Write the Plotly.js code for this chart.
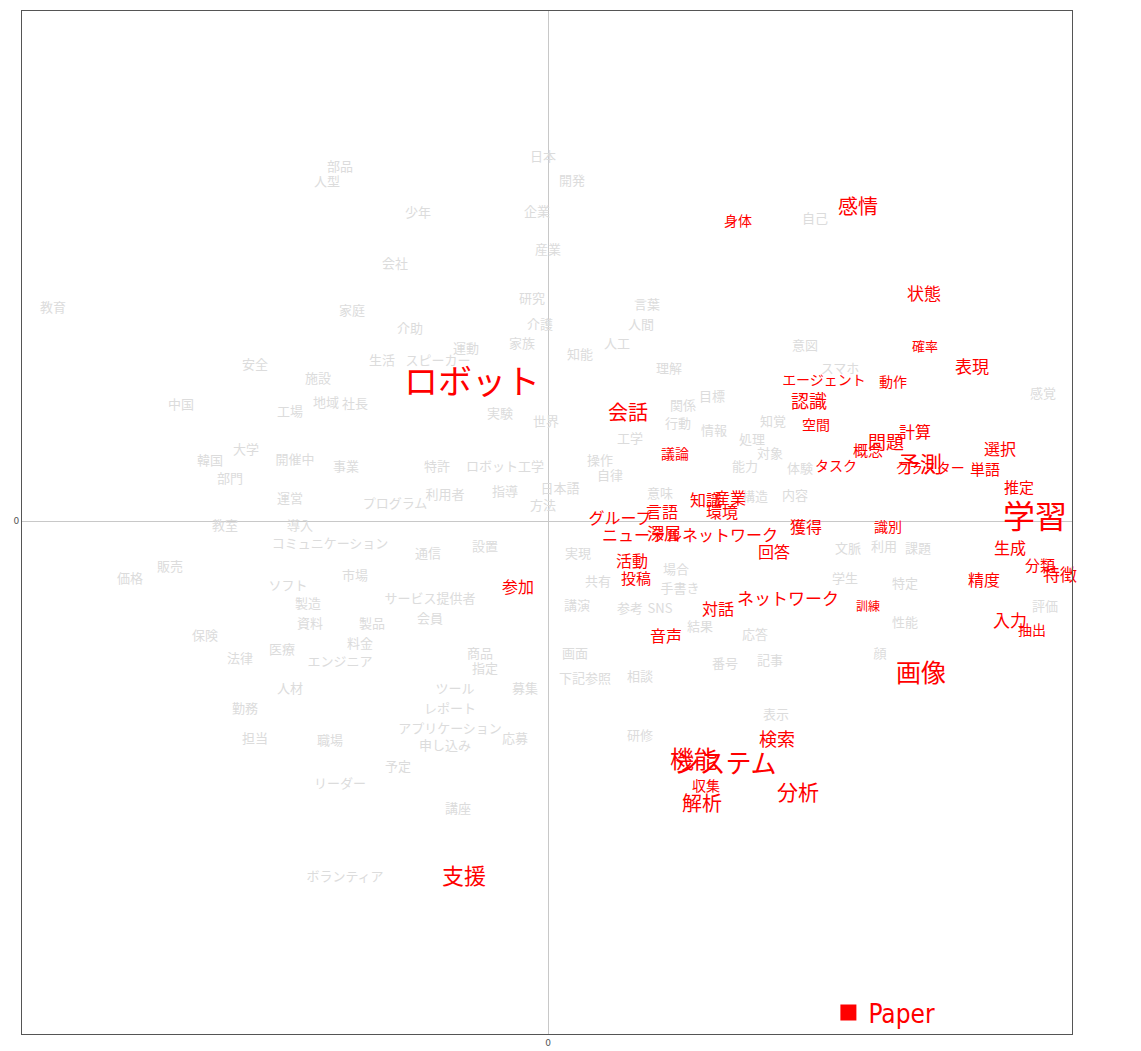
<!DOCTYPE html>
<html>
<head>
<meta charset="utf-8">
<script src="https://cdn.plot.ly/plotly-3.0.1.min.js"></script>
<style>html,body{margin:0;padding:0;background:#fff;}#chart{width:1141px;height:1051px;}</style>
</head>
<body>
<div id="chart"></div>
<script>
// Highlighted (red) words: labels, dimension 1, dimension 2, relative size
const redWords = ["ロボット","学習","画像","システム","機能","分析","解析","収集","検索","支援",
  "感情","身体","状態","確率","表現","エージェント","動作","認識","空間","計算",
  "概念","問題","タスク","予測","クラスター","単語","選択","推定","生成","分類",
  "特徴","モデル","精度","入力","抽出","手法","識別","訓練","ネットワーク","対話",
  "音声","投稿","活動","参加","獲得","回答","ニューラルネットワーク","深層","グループ","言語",
  "知識","産業","環境","会話","議論"];
const redX = [-0.76,4.87,3.73,1.77,1.46,2.50,1.54,1.58,2.29,-0.84,
  3.10,1.90,3.76,3.77,4.24,2.76,3.45,2.61,2.68,3.67,
  3.20,3.38,2.88,3.72,3.82,4.37,4.52,4.71,4.62,4.92,
  5.12,5.58,4.36,4.62,4.84,5.70,3.40,3.20,2.40,1.70,
  1.18,0.88,0.84,-0.30,2.58,2.26,1.42,1.16,0.72,1.14,
  1.58,1.82,1.74,0.80,1.27];
const redY = [1.36,0.01,-1.55,-2.45,-2.41,-2.74,-2.85,-2.66,-2.20,-3.57,
  3.12,2.99,2.25,1.73,1.52,1.40,1.38,1.18,0.95,0.87,
  0.69,0.77,0.54,0.55,0.52,0.50,0.70,0.32,-0.29,-0.46,
  -0.56,-0.44,-0.61,-1.02,-1.10,-1.72,-0.07,-0.87,-0.80,-0.90,
  -1.17,-0.59,-0.42,-0.68,-0.08,-0.33,-0.16,-0.15,0.01,0.07,
  0.19,0.21,0.07,1.06,0.66];
const redSize = [34,32,25,26,24,21,20,14,18,22,
  20,14,17,13,17,14,14,18,14,16,
  15,18,14,22,14,15,16,15,16,15,
  17,20,16,17,14,16,14,12,17,16,
  16,15,16,16,16,16,16,17,16,16,
  16,16,16,20,14];

// Faint (gray) words
const grayWords = ["部品","人型","日本","開発","少年","企業","自己","産業","会社","教育",
  "家庭","研究","言葉","介護","介助","人間","人工","知能","安全","施設",
  "生活","スピーカー","運動","家族","理解","意図","スマホ","中国","工場","地域",
  "社長","実験","世界","関係","行動","情報","目標","知覚","感覚","大学",
  "韓国","開催中","事業","特許","ロボット工学","工学","操作","自律","能力","対象",
  "体験","意味","日本語","方法","指導","利用者","プログラム","運営","部門","教室",
  "導入","コミュニケーション","通信","設置","実現","共有","講演","参考","SNS","場合",
  "手書き","結果","応答","文脈","利用","課題","学生","特定","性能","評価",
  "処理","構造","内容","販売","価格","ソフト","製造","市場","サービス提供者","会員",
  "製品","資料","料金","医療","法律","保険","エンジニア","商品","指定","募集",
  "ツール","レポート","アプリケーション","申し込み","応募","予定","リーダー","職場","担当","勤務",
  "人材","講座","ボランティア","画面","下記参照","相談","番号","記事","表示","研修","顔"];
const grayX = [-2.08,-2.21,-0.05,0.24,-1.30,-0.11,2.67,0.00,-1.53,-4.95,
  -1.96,-0.16,0.99,-0.08,-1.38,0.93,0.69,0.32,-2.93,-2.30,
  -1.66,-1.10,-0.82,-0.26,1.21,2.57,2.92,-3.67,-2.58,-2.22,
  -1.93,-0.48,-0.02,1.35,1.30,1.66,1.64,2.25,4.95,-3.02,
  -3.38,-2.53,-2.02,-1.11,-0.43,0.82,0.52,0.62,1.97,2.22,
  2.52,1.12,0.12,-0.05,-0.43,-1.03,-1.53,-2.58,-3.18,-3.23,
  -2.48,-2.18,-1.20,-0.63,0.30,0.50,0.29,0.82,1.12,1.28,
  1.32,1.52,2.07,3.00,3.36,3.70,2.97,3.57,3.57,4.97,
  2.04,2.07,2.47,-3.78,-4.18,-2.60,-2.40,-1.93,-1.18,-1.18,
  -1.76,-2.38,-1.88,-2.66,-3.08,-3.43,-2.08,-0.68,-0.63,-0.23,
  -0.93,-0.98,-0.98,-1.03,-0.33,-1.50,-2.08,-2.18,-2.93,-3.03,
  -2.58,-0.90,-2.03,0.27,0.37,0.92,1.77,2.22,2.28,0.92,3.32];
const grayY = [3.53,3.38,3.63,3.39,3.07,3.08,3.01,2.70,2.56,2.12,
  2.09,2.21,2.15,1.95,1.91,1.95,1.76,1.65,1.55,1.41,
  1.59,1.59,1.71,1.76,1.51,1.74,1.51,1.15,1.08,1.17,
  1.16,1.06,0.98,1.14,0.96,0.89,1.23,0.98,1.26,0.70,
  0.59,0.60,0.53,0.53,0.53,0.81,0.59,0.44,0.53,0.66,
  0.51,0.26,0.31,0.14,0.28,0.25,0.16,0.21,0.41,-0.06,
  -0.06,-0.24,-0.34,-0.27,-0.34,-0.62,-0.86,-0.89,-0.89,-0.50,
  -0.69,-1.07,-1.15,-0.29,-0.27,-0.29,-0.59,-0.64,-1.03,-0.87,
  0.80,0.23,0.24,-0.47,-0.59,-0.66,-0.84,-0.56,-0.79,-0.99,
  -1.04,-1.04,-1.24,-1.30,-1.39,-1.16,-1.42,-1.34,-1.49,-1.69,
  -1.69,-1.89,-2.09,-2.26,-2.19,-2.47,-2.64,-2.21,-2.19,-1.89,
  -1.69,-2.89,-3.57,-1.34,-1.59,-1.57,-1.44,-1.41,-1.95,-2.16,-1.34];
const graySize = grayWords.map(() => 13);

const legendName = "Paper";

const grayTrace = {
  type: "scatter", mode: "text",
  x: grayX, y: grayY, text: grayWords,
  textposition: "middle center",
  textfont: {family: "Noto Sans CJK JP", size: graySize, color: "#dcdcdc"},
  cliponaxis: false, hoverinfo: "text", showlegend: false
};
const redTrace = {
  type: "scatter", mode: "text",
  x: redX, y: redY, text: redWords,
  textposition: "middle center",
  textfont: {family: "Noto Sans CJK JP", size: redSize, color: "#ff0000"},
  cliponaxis: false, hoverinfo: "text", showlegend: false
};
const legendTrace = {
  type: "scatter", mode: "markers",
  x: [null], y: [null], name: legendName,
  marker: {symbol: "square", color: "#ff0000", size: 20},
  showlegend: true
};

const layout = {
  width: 1141, height: 1051,
  margin: {l: 22, r: 69, t: 11, b: 17, pad: 0},
  paper_bgcolor: "#ffffff", plot_bgcolor: "#ffffff",
  font: {family: "DejaVu Sans", color: "#555"},
  xaxis: {
    range: [-5.26, 5.24], showgrid: false,
    zeroline: true, zerolinecolor: "#c8c8c8", zerolinewidth: 1,
    showline: true, mirror: true, linecolor: "#555", linewidth: 1,
    tickvals: [0], ticktext: ["0"], ticks: "", tickfont: {size: 9, color: "#555"}
  },
  yaxis: {
    range: [-5.13, 5.10], showgrid: false,
    zeroline: true, zerolinecolor: "#c8c8c8", zerolinewidth: 1,
    showline: true, mirror: true, linecolor: "#555", linewidth: 1,
    tickvals: [0], ticktext: ["0"], ticks: "", tickfont: {size: 9, color: "#555"}
  },
  showlegend: true,
  legend: {
    x: 0.768, y: 0.021, xanchor: "left", yanchor: "middle",
    bgcolor: "rgba(0,0,0,0)",
    font: {family: "DejaVu Sans Condensed, DejaVu Sans", size: 26, color: "#ff0000"}
  }
};

Plotly.newPlot("chart", [grayTrace, redTrace, legendTrace], layout, {displayModeBar: false, staticPlot: true});
</script>
</body>
</html>
